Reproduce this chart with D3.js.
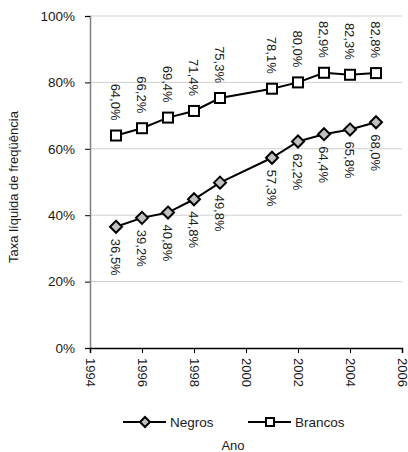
<!DOCTYPE html>
<html>
<head>
<meta charset="utf-8">
<script src="https://cdn.jsdelivr.net/npm/d3@7"></script>
<style>
  html, body { margin: 0; padding: 0; background: #fff; }
  svg text { font-family: "Liberation Sans", Arial, sans-serif; fill: #1a1a1a; }
</style>
</head>
<body>
<svg id="chart" width="408" height="452"></svg>
<script>
// Taxa líquida de frequência por cor/raça
const years = [1995, 1996, 1997, 1998, 1999, 2001, 2002, 2003, 2004, 2005];
const negros = [36.5, 39.2, 40.8, 44.8, 49.8, 57.3, 62.2, 64.4, 65.8, 68.0];
const brancos = [64.0, 66.2, 69.4, 71.4, 75.3, 78.1, 80.0, 82.9, 82.3, 82.8];
const xTicks = [1994, 1996, 1998, 2000, 2002, 2004, 2006];
const yTicks = [0, 20, 40, 60, 80, 100];
const seriesNames = ["Negros", "Brancos"];
const xTitle = "Ano";
const yTitle = "Taxa líquida de freqüência";

const svg = d3.select("#chart");
const margin = { left: 90, right: 6, top: 16, bottom: 104 };
const W = 408, H = 452;

const x = d3.scaleLinear().domain([1994, 2006]).range([margin.left, W - margin.right]);
const y = d3.scaleLinear().domain([0, 100]).range([H - margin.bottom, margin.top]);

const fmt = v => d3.format(".1f")(v).replace(".", ",") + "%";

// horizontal gridlines
svg.append("g")
  .selectAll("line").data(yTicks.filter(t => t > 0)).join("line")
  .attr("x1", margin.left).attr("x2", W - margin.right)
  .attr("y1", d => y(d)).attr("y2", d => y(d))
  .attr("stroke", "#cfcfcf").attr("stroke-width", 1);

// y axis
const yAxis = svg.append("g")
  .attr("transform", `translate(${margin.left},0)`)
  .call(d3.axisLeft(y).tickValues(yTicks).tickSize(5).tickFormat(d => d + "%"));
yAxis.select(".domain").attr("stroke", "#808080").attr("stroke-width", 1.5);
yAxis.selectAll(".tick line").attr("stroke", "#000");
yAxis.selectAll(".tick text").attr("x", -15).style("font-size", "13.5px");

// x axis
const xAxis = svg.append("g")
  .attr("transform", `translate(0,${y(0)})`)
  .call(d3.axisBottom(x).tickValues(xTicks).tickSize(5).tickFormat(d3.format("d")));
xAxis.select(".domain").attr("stroke", "#000").attr("stroke-width", 1.5);
xAxis.selectAll(".tick line").attr("stroke", "#000");
xAxis.selectAll(".tick text")
  .attr("transform", "rotate(90)")
  .attr("x", 10).attr("y", 0).attr("dy", "0.35em")
  .attr("text-anchor", "start")
  .style("font-size", "13px");

const line = d3.line().x(d => x(d[0])).y(d => y(d[1]));
const negData = years.map((yr, i) => [yr, negros[i]]);
const braData = years.map((yr, i) => [yr, brancos[i]]);

function drawSeries(data, marker, labelAbove) {
  svg.append("path").datum(data)
    .attr("d", line).attr("fill", "none")
    .attr("stroke", "#000").attr("stroke-width", 2);
  const g = svg.append("g");
  data.forEach(d => {
    const px = x(d[0]), py = y(d[1]);
    if (marker === "square") {
      g.append("rect").attr("x", px - 5).attr("y", py - 5)
        .attr("width", 10).attr("height", 10)
        .attr("fill", "#fff").attr("stroke", "#000").attr("stroke-width", 2);
    } else {
      g.append("path").attr("d", `M${px},${py - 6}L${px + 6},${py}L${px},${py + 6}L${px - 6},${py}Z`)
        .attr("fill", "#c0c0c0").attr("stroke", "#000").attr("stroke-width", 2);
    }
    const ty = labelAbove ? py - 15 : py + 12;
    g.append("text")
      .attr("transform", `translate(${px},${ty}) rotate(90)`)
      .attr("text-anchor", labelAbove ? "end" : "start")
      .attr("dy", "0.35em")
      .style("font-size", "13px")
      .text(fmt(d[1]));
  });
}
drawSeries(braData, "square", true);
drawSeries(negData, "diamond", false);

// y axis title
svg.append("text")
  .attr("transform", `translate(18,187) rotate(-90)`)
  .attr("text-anchor", "middle")
  .style("font-size", "13px")
  .text(yTitle);

// x axis title
svg.append("text")
  .attr("x", 233).attr("y", 450)
  .attr("text-anchor", "middle")
  .style("font-size", "13px")
  .text(xTitle);

// legend
const legend = svg.append("g").attr("transform", "translate(0,422)");
const leg = [
  { name: seriesNames[0], x0: 123, marker: "diamond" },
  { name: seriesNames[1], x0: 248, marker: "square" }
];
leg.forEach(l => {
  legend.append("line").attr("x1", l.x0).attr("x2", l.x0 + 43)
    .attr("y1", 0).attr("y2", 0).attr("stroke", "#000").attr("stroke-width", 2);
  const cx = l.x0 + 22;
  if (l.marker === "square") {
    legend.append("rect").attr("x", cx - 4).attr("y", -4).attr("width", 8).attr("height", 8)
      .attr("fill", "#fff").attr("stroke", "#000").attr("stroke-width", 2);
  } else {
    legend.append("path").attr("d", `M${cx},-5L${cx + 5},0L${cx},5L${cx - 5},0Z`)
      .attr("fill", "#c0c0c0").attr("stroke", "#000").attr("stroke-width", 2);
  }
  legend.append("text").attr("x", l.x0 + 47).attr("y", 0).attr("dy", "0.35em")
    .style("font-size", "13.5px").text(l.name);
});
</script>
</body>
</html>
